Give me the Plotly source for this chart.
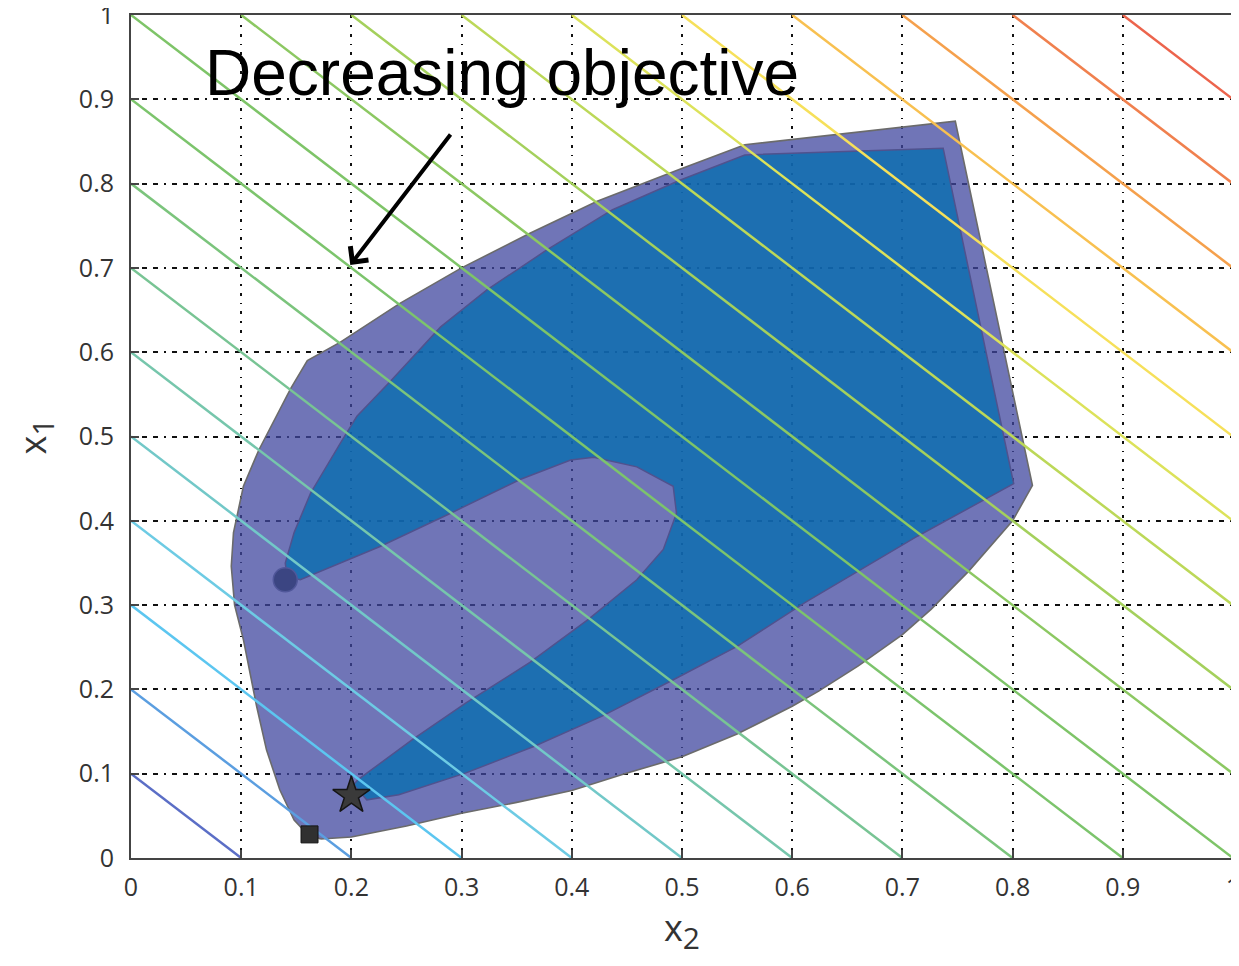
import plotly.graph_objects as go

# ---- data -------------------------------------------------------------
# objective contour levels  x2 + x1 = c
levels = [0.1, 0.2, 0.3, 0.4, 0.5, 0.6, 0.7, 0.8, 0.9, 1.0,
          1.1, 1.2, 1.3, 1.4, 1.5, 1.6, 1.7, 1.8, 1.9]
level_colors = ["#5b6ec6", "#5b9ee0", "#5cc6f0", "#6dcbe4", "#72c8c8",
                "#76c6ac", "#78c494", "#7bc47c", "#7cc46c", "#7ec468",
                "#8cc862", "#a4d05c", "#bcd858", "#dce25a", "#f6e05a",
                "#f8c050", "#f5a04c", "#f0804e", "#ec644c"]

# outer (relaxed) feasible region boundary
outer_x2 = [0.172, 0.200, 0.250, 0.300, 0.350, 0.400, 0.448, 0.500, 0.550, 0.600,
            0.624, 0.660, 0.700, 0.726, 0.760, 0.800, 0.818, 0.748, 0.557, 0.498,
            0.423, 0.362, 0.300, 0.244, 0.190, 0.160, 0.145, 0.128, 0.116, 0.102,
            0.093, 0.091, 0.094, 0.102, 0.114, 0.123, 0.135, 0.148, 0.158]
outer_x1 = [0.0225, 0.025, 0.038, 0.053, 0.066, 0.080, 0.100, 0.120, 0.147, 0.180,
            0.198, 0.228, 0.265, 0.295, 0.340, 0.400, 0.442, 0.874, 0.846, 0.817,
            0.779, 0.741, 0.700, 0.658, 0.612, 0.590, 0.557, 0.515, 0.484, 0.441,
            0.386, 0.346, 0.300, 0.259, 0.180, 0.128, 0.081, 0.045, 0.031]

# inner (true) feasible region boundary
inner_x2 = [0.1415, 0.140, 0.148, 0.163, 0.190, 0.205, 0.235, 0.281, 0.323, 0.377,
            0.437, 0.498, 0.557, 0.737, 0.801, 0.714, 0.6115, 0.550, 0.493, 0.427,
            0.366, 0.304, 0.243, 0.214, 0.202, 0.206, 0.255, 0.304, 0.362, 0.415,
            0.459, 0.483, 0.495, 0.492, 0.459, 0.420, 0.399, 0.353, 0.290, 0.226,
            0.1536]
inner_x1 = [0.334, 0.350, 0.386, 0.433, 0.492, 0.524, 0.565, 0.630, 0.674, 0.721,
            0.769, 0.804, 0.834, 0.842, 0.444, 0.382, 0.303, 0.251, 0.212, 0.168,
            0.1325, 0.101, 0.075, 0.069, 0.087, 0.093, 0.140, 0.184, 0.232, 0.283,
            0.330, 0.366, 0.409, 0.441, 0.464, 0.4755, 0.472, 0.449, 0.409, 0.3695,
            0.330]

circle_pt = [0.140, 0.330]
star_pt = [0.200, 0.074]
square_pt = [0.162, 0.028]

tick_vals = [0, 0.1, 0.2, 0.3, 0.4, 0.5, 0.6, 0.7, 0.8, 0.9, 1]
tick_text = ["0", "0.1", "0.2", "0.3", "0.4", "0.5", "0.6", "0.7", "0.8", "0.9", "1"]

annotation_text = "Decreasing objective"
arrow_tail = [0.291, 0.860]
arrow_head = [0.199, 0.7035]
text_pos = [0.337, 0.931]

# ---- figure -----------------------------------------------------------
fig = go.Figure()

fig.add_trace(go.Scatter(
    x=outer_x2 + [outer_x2[0]], y=outer_x1 + [outer_x1[0]],
    mode="lines", fill="toself", fillcolor="rgba(64,71,159,0.75)",
    line=dict(color="#6b6b6b", width=1.6), hoverinfo="skip"))

fig.add_trace(go.Scatter(
    x=inner_x2 + [inner_x2[0]], y=inner_x1 + [inner_x1[0]],
    mode="lines", fill="toself", fillcolor="rgba(7,109,176,0.78)",
    line=dict(color="#50528e", width=1.5), hoverinfo="skip"))

for c, col in zip(levels, level_colors):
    xa = max(0.0, c - 1.0)
    xb = min(c, 1.0)
    fig.add_trace(go.Scatter(
        x=[xa, xb], y=[c - xa, c - xb], mode="lines",
        line=dict(color=col, width=2.5), hoverinfo="skip"))

fig.add_trace(go.Scatter(
    x=[circle_pt[0]], y=[circle_pt[1]], mode="markers",
    marker=dict(symbol="circle", size=24, color="#3b4582",
                line=dict(color="#50579a", width=1.5))))
fig.add_trace(go.Scatter(
    x=[star_pt[0]], y=[star_pt[1]], mode="markers",
    marker=dict(symbol="star", size=28, color="#3a3a3a",
                line=dict(color="#151515", width=1.5))))
fig.add_trace(go.Scatter(
    x=[square_pt[0]], y=[square_pt[1]], mode="markers",
    marker=dict(symbol="square", size=17, color="#303030",
                line=dict(color="#151515", width=1))))

fig.add_annotation(
    x=arrow_head[0], y=arrow_head[1], ax=arrow_tail[0], ay=arrow_tail[1],
    xref="x", yref="y", axref="x", ayref="y", text="",
    showarrow=True, arrowhead=4, arrowsize=1.1, arrowwidth=4, arrowcolor="black")

fig.add_annotation(
    x=text_pos[0], y=text_pos[1], xref="x", yref="y", text=annotation_text,
    showarrow=False, xanchor="center", yanchor="middle",
    font=dict(family="Liberation Sans, Arial", size=64, color="black"))

axis_common = dict(
    range=[0, 1], tickmode="array", tickvals=tick_vals, ticktext=tick_text,
    showgrid=True, gridcolor="#111111", gridwidth=1.5,
    zeroline=False, showline=True, linecolor="#444444", linewidth=2,
    mirror=True, ticks="inside", ticklen=8, tickcolor="#444444", tickwidth=1.5,
    tickfont=dict(family="Open Sans", size=25, color="#333333"),
    automargin=False, ticklabeloverflow="allow",
)

fig.update_xaxes(**axis_common,
                 griddash="3px,7px,1.5px,7px",
                 ticklabelstandoff=6,
                 title=dict(text="x<sub><span style='font-size:30px'>2</span></sub>",
                            standoff=14,
                            font=dict(family="Open Sans", size=36, color="#333333")))
fig.update_yaxes(**axis_common,
                 griddash="5px,6px,5px,6px,5px,6px,2px,6px",
                 ticklabelstandoff=10,
                 title=dict(text="x<sub><span style='font-size:30px'>1</span></sub>",
                            standoff=32,
                            font=dict(family="Open Sans", size=36, color="#333333")))

# the page body adds an 8px offset, so the figure is 8px smaller and margins shifted
fig.update_layout(
    width=1231, height=958,
    margin=dict(l=123, r=6, t=7, b=108),
    plot_bgcolor="white", paper_bgcolor="white",
    showlegend=False,
)

fig.write_html("out.html")
